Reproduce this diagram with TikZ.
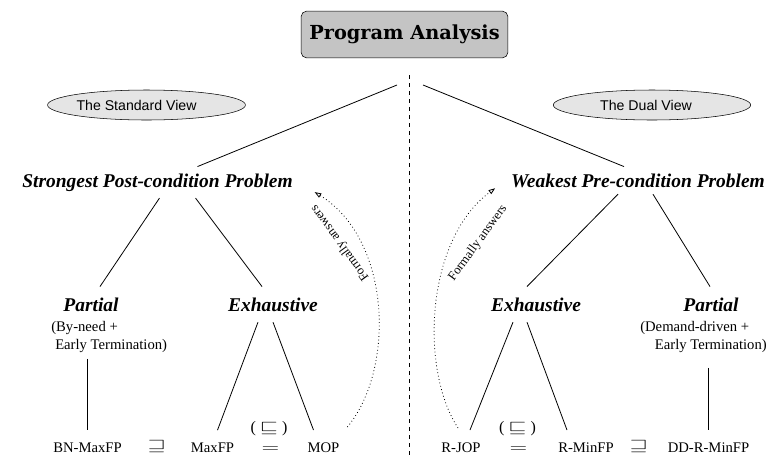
\documentclass[tikz,border=0pt]{standalone}
\usepackage{amssymb}
\usepackage{fontspec}
\setmainfont{Liberation Serif}
\setsansfont{Liberation Sans}
\newfontfamily\titlefont{DejaVu Serif}
\usetikzlibrary{shapes,arrows.meta,positioning}

\tikzset{
  problem/.style={font=\fontsize{14.6}{17}\selectfont\bfseries\itshape,inner xsep=2pt,inner ysep=5pt,anchor=base},
  kind/.style={font=\fontsize{14.6}{17}\selectfont\bfseries\itshape,inner xsep=2pt,inner ysep=8pt,anchor=base},
  note/.style={font=\fontsize{11}{13.5}\selectfont,align=left,inner sep=0pt,anchor=north west},
  result/.style={font=\fontsize{11}{13}\selectfont,inner xsep=2pt,inner ysep=9pt,anchor=base},
  rel/.style={font=\large,inner sep=0pt,anchor=base},
  view/.style={ellipse,draw,fill=black!10,font=\sffamily\fontsize{10.6}{12}\selectfont,minimum width=148pt,minimum height=22.5pt,inner sep=0pt},
  answers/.style={font=\fontsize{9.5}{11}\selectfont,inner sep=1pt},
  link/.style={line width=0.6pt},
  proof/.style={dotted,line width=0.6pt,-{Triangle[open,length=5pt,width=3.5pt]}}
}
\newcommand{\wideop}[1]{\scalebox{1.45}[1]{$#1$}}

\begin{document}
\begin{tikzpicture}[x=0.75pt,y=-0.75pt]
  \useasboundingbox (0,0) rectangle (769,458);

  \node (title) at (404.5,34.5) [draw,rounded corners=4pt,fill=black!23,minimum width=155pt,minimum height=35pt,font=\titlefont\bfseries\fontsize{14.5}{17}\selectfont] {Program Analysis};
  \coordinate (splitL) at (397,85);
  \coordinate (splitR) at (423,85);
  \coordinate (roof) at (409,75);
  \coordinate (floor) at (409,458);
  \draw[link,dash pattern=on 3pt off 3pt] (roof) -- (floor);

  \node (standard) at (146.5,105) [view] {The Standard View\hspace*{15pt}};
  \node (dual) at (652,105) [view] {The Dual View\hspace*{9pt}};

  \node (spp) at (157.5,187) [problem] {Strongest Post-condition Problem};
  \node (wpp) at (638,187) [problem] {Weakest Pre-condition Problem};
  \draw[link] (splitL) -- ([shift={(40,0)}]spp.north);
  \draw[link] (splitR) -- ([shift={(-14,0)}]wpp.north);

  % the standard view
  \node (partialL) at (91,311) [kind] {Partial};
  \node (exhL) at (273,311) [kind] {Exhaustive};
  \draw[link] ([shift={(2,0)}]spp.south) -- ([shift={(9,0)}]partialL.north);
  \draw[link] ([shift={(38,0)}]spp.south) -- ([shift={(-11,0)}]exhL.north);
  \node (needL) at (51,321) [note] {(By-need +\\\hspace{3pt}Early Termination)};

  \node (bnmax) at (87.5,452) [result] {BN-MaxFP};
  \node (maxfp) at (212.5,452) [result] {MaxFP};
  \node (mop) at (323.5,452) [result] {MOP};
  \node (sqL) at (157,450) [rel] {\wideop{\sqsupseteq}};
  \node (leL) at (269,432) [rel] {( \wideop{\sqsubseteq} )};
  \node (eqL) at (270.5,452) [rel] {\wideop{=}};

  \draw[link] (bnmax.north |- needL.south) ++(0,6) -- (bnmax.north);
  \draw[link] ([shift={(-15,0)}]exhL.south) -- ([shift={(5,0)}]maxfp.north);
  \draw[link] (exhL.south) -- ([shift={(-10,0)}]mop.north);
  \draw[proof] ([shift={(5,-3)}]mop.north east) .. controls (395,370) and (392,240) .. ([shift={(19,-6)}]spp.south east);
  \node (ansL) at (340,243) [answers,rotate=126] {Formally answers};

  % the dual view
  \node (exhR) at (536,311) [kind] {Exhaustive};
  \node (partialR) at (711,311) [kind] {Partial};
  \draw[link] ([shift={(-20,0)}]wpp.south) -- ([shift={(-9,0)}]exhR.north);
  \draw[link] ([shift={(15,0)}]wpp.south) -- ([shift={(-1,0)}]partialR.north);
  \node (needR) at (640,321) [note] {(Demand-driven +\\\hspace{11pt}Early Termination)};

  \node (rjop) at (461,452) [result] {R-JOP};
  \node (rmin) at (586,452) [result] {R-MinFP};
  \node (ddrmin) at (708.5,452) [result] {DD-R-MinFP};
  \node (leR) at (517.5,432) [rel] {( \wideop{\sqsubseteq} )};
  \node (eqR) at (518.5,452) [rel] {\wideop{=}};
  \node (sqR) at (639,450) [rel] {\wideop{\sqsupseteq}};

  \draw[link] (ddrmin.north |- needR.south) ++(0,15) -- (ddrmin.north);
  \draw[link] ([shift={(-23,0)}]exhR.south) -- ([shift={(9,0)}]rjop.north);
  \draw[link] ([shift={(-9,0)}]exhR.south) -- ([shift={(-19,0)}]rmin.north);
  \draw[proof] ([shift={(-3,-2)}]rjop.north) .. controls (420,370) and (425,240) .. ([shift={(-13,-6)}]wpp.south west);
  \node (ansR) at (478,243) [answers,rotate=54] {Formally answers};
\end{tikzpicture}
\end{document}
